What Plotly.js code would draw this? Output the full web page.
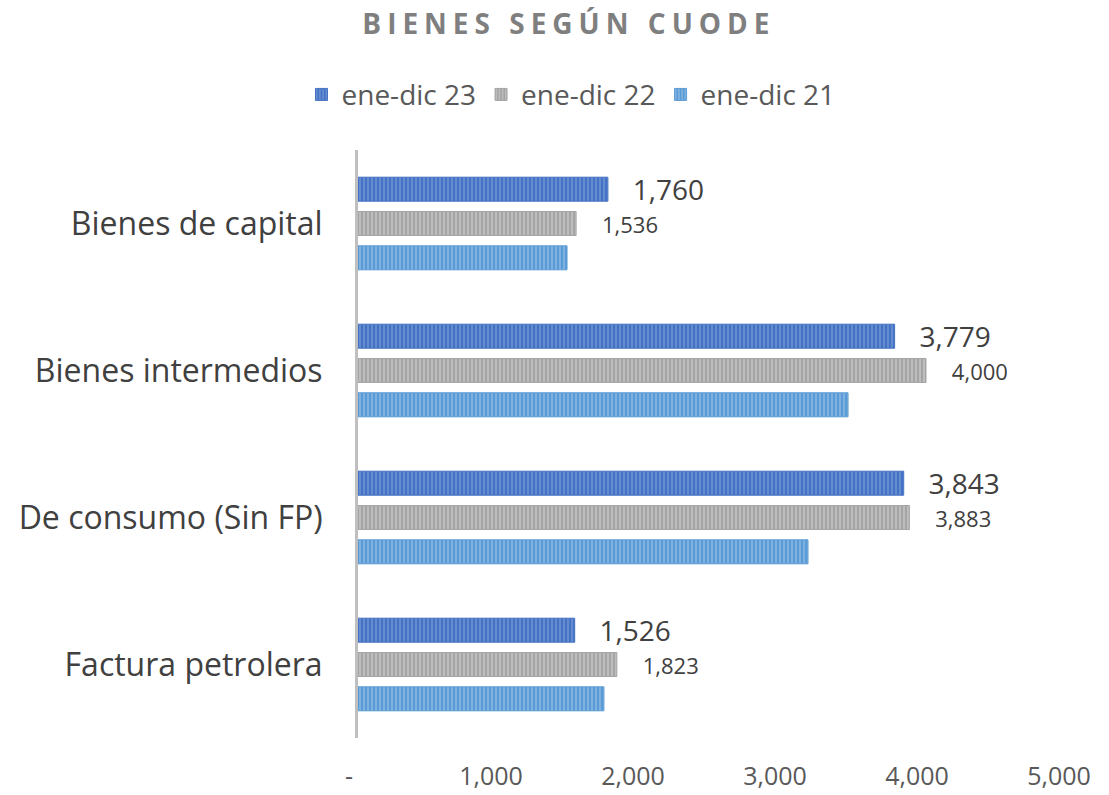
<!DOCTYPE html>
<html>
<head>
<meta charset="utf-8">
<script src="https://cdn.plot.ly/plotly-3.0.1.min.js"></script>
<style>
  body { margin: 0; background: #fff; }
  #plot { width: 1109px; height: 795px; }
  .gtitle { letter-spacing: 6px; }
</style>
</head>
<body>
<div id="plot"></div>
<script>
// categories and series (millions)
const categories = ["Bienes de capital", "Bienes intermedios", "De consumo (Sin FP)", "Factura petrolera"];
const seriesNames = ["ene-dic 23", "ene-dic 22", "ene-dic 21"];
const val23 = [1760, 3779, 3843, 1526];
const val22 = [1536, 4000, 3883, 1823];
const val21 = [1472, 3451, 3169, 1732];
const tickVals = [0, 1000, 2000, 3000, 4000, 5000];
const tickText = ["-", "1,000", "2,000", "3,000", "4,000", "5,000"];

const font = "'Open Sans', Lato, sans-serif";

function stripe(base, light) {
  return { shape: "|", bgcolor: base, fgcolor: light, size: 4, solidity: 0.45, fillmode: "overlay" };
}

const trace23 = {
  x: val23, y: categories, name: seriesNames[0],
  type: "bar", orientation: "h",
  marker: { color: "#4472C4", pattern: stripe("#4472C4", "#8FAADC"), line: { color: "#4472C4", width: 1 } },
  texttemplate: "\u00a0\u00a0\u00a0%{x:,}", textposition: "outside", cliponaxis: false, constraintext: "none",
  textfont: { size: 28, color: "#404040", family: font },
  hoverinfo: "x+name"
};

const trace22 = {
  x: val22, y: categories, name: seriesNames[1],
  type: "bar", orientation: "h",
  marker: { color: "#A5A5A5", pattern: stripe("#A5A5A5", "#DADADA"), line: { color: "#A5A5A5", width: 1 } },
  texttemplate: "\u00a0\u00a0\u00a0\u00a0%{x:,}", textposition: "outside", cliponaxis: false, constraintext: "none",
  textfont: { size: 22, color: "#404040", family: font },
  hoverinfo: "x+name"
};

const trace21 = {
  x: val21, y: categories, name: seriesNames[2],
  type: "bar", orientation: "h",
  marker: { color: "#5B9BD5", pattern: stripe("#5B9BD5", "#A9CDEE"), line: { color: "#5B9BD5", width: 1 } },
  hoverinfo: "x+name"
};

const layout = {
  width: 1109, height: 795,
  font: { family: font, color: "#595959" },
  paper_bgcolor: "#fff", plot_bgcolor: "#fff",
  title: {
    text: "<b>BIENES SEGÚN CUODE</b>",
    font: { size: 28, color: "#7F7F7F", family: font },
    xref: "container", x: 0.513, yref: "container", y: 0.969, yanchor: "middle"
  },
  legend: {
    orientation: "h", x: 0.3, xanchor: "center",
    y: 1.094, yanchor: "middle",
    font: { size: 28, color: "#595959", family: font },
    traceorder: "normal"
  },
  margin: { l: 358, r: 41, t: 150, b: 57, autoexpand: false },
  barmode: "group",
  bargap: 0.3,
  bargroupgap: 0.3,
  xaxis: {
    range: [0, 5000], automargin: false,
    tickvals: tickVals, ticktext: tickText, tickangle: 0,
    showgrid: false, zeroline: false, showline: false,
    tickfont: { size: 25, color: "#595959", family: font },
    ticklabelstandoff: 21, ticklabelshift: -9
  },
  yaxis: {
    autorange: "reversed", automargin: false,
    showgrid: false, zeroline: false,
    showline: true, linecolor: "#BFBFBF", linewidth: 3,
    tickfont: { size: 32, color: "#404040", family: font },
    ticklabelstandoff: 26
  },
  showlegend: true
};

Plotly.newPlot("plot", [trace23, trace22, trace21], layout, { displayModeBar: false });
</script>
</body>
</html>
